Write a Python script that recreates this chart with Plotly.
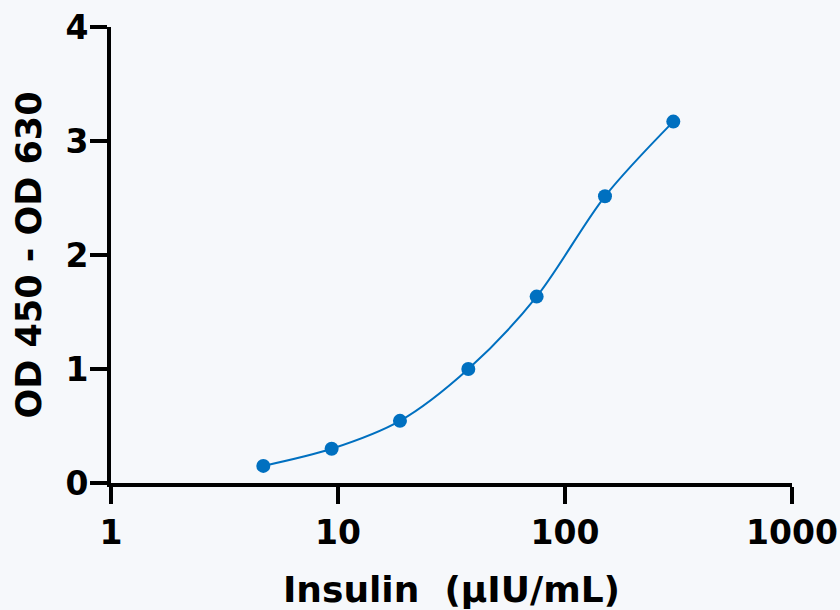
import plotly.graph_objects as go

# Data
insulin = [4.6875, 9.375, 18.75, 37.5, 75, 150, 300]
od = [0.15, 0.30, 0.545, 1.00, 1.635, 2.515, 3.17]
x_tickvals = [1, 10, 100, 1000]
x_ticktext = ["1", "10", "100", "1000"]
y_tickvals = [0, 1, 2, 3, 4]

BLUE = "#0070C0"
BG = "#F6F8FB"
FONT = "DejaVu Sans"

fig = go.Figure()
fig.add_trace(go.Scatter(
    x=insulin, y=od, mode="lines",
    line=dict(color=BLUE, width=2, shape="spline", smoothing=0.9),
    hoverinfo="skip", showlegend=False,
))
fig.add_trace(go.Scatter(
    x=insulin, y=od, mode="markers",
    marker=dict(color=BLUE, size=14),
    showlegend=False,
))

axis_common = dict(
    showline=True, linecolor="black", linewidth=4,
    ticks="outside", ticklen=17, tickwidth=4, tickcolor="black",
    showgrid=False, zeroline=False, automargin=False,
    tickfont=dict(family=FONT, size=33, color="black", weight="bold"),
)

fig.update_xaxes(
    type="log", range=[0, 3],
    tickvals=x_tickvals, ticktext=x_ticktext,
    title=dict(text="Insulin  (µIU/mL)", standoff=27,
               font=dict(family=FONT, size=36, color="black", weight="bold")),
    **axis_common,
)
fig.update_yaxes(
    range=[0, 4], tickvals=y_tickvals, ticklabelstandoff=-5,
    title=dict(text="OD 450 - OD 630", standoff=14,
               font=dict(family=FONT, size=35, color="black", weight="bold")),
    **axis_common,
)

fig.update_layout(
    width=840, height=610,
    margin=dict(l=111, r=48, t=27, b=127, pad=0, autoexpand=False),
    paper_bgcolor=BG, plot_bgcolor=BG,
)

fig.write_html(
    "out.html",
    config={"displayModeBar": False},
    post_script="document.body.style.margin='0';document.body.style.backgroundColor='#F6F8FB';document.body.style.overflow='hidden';",
)
